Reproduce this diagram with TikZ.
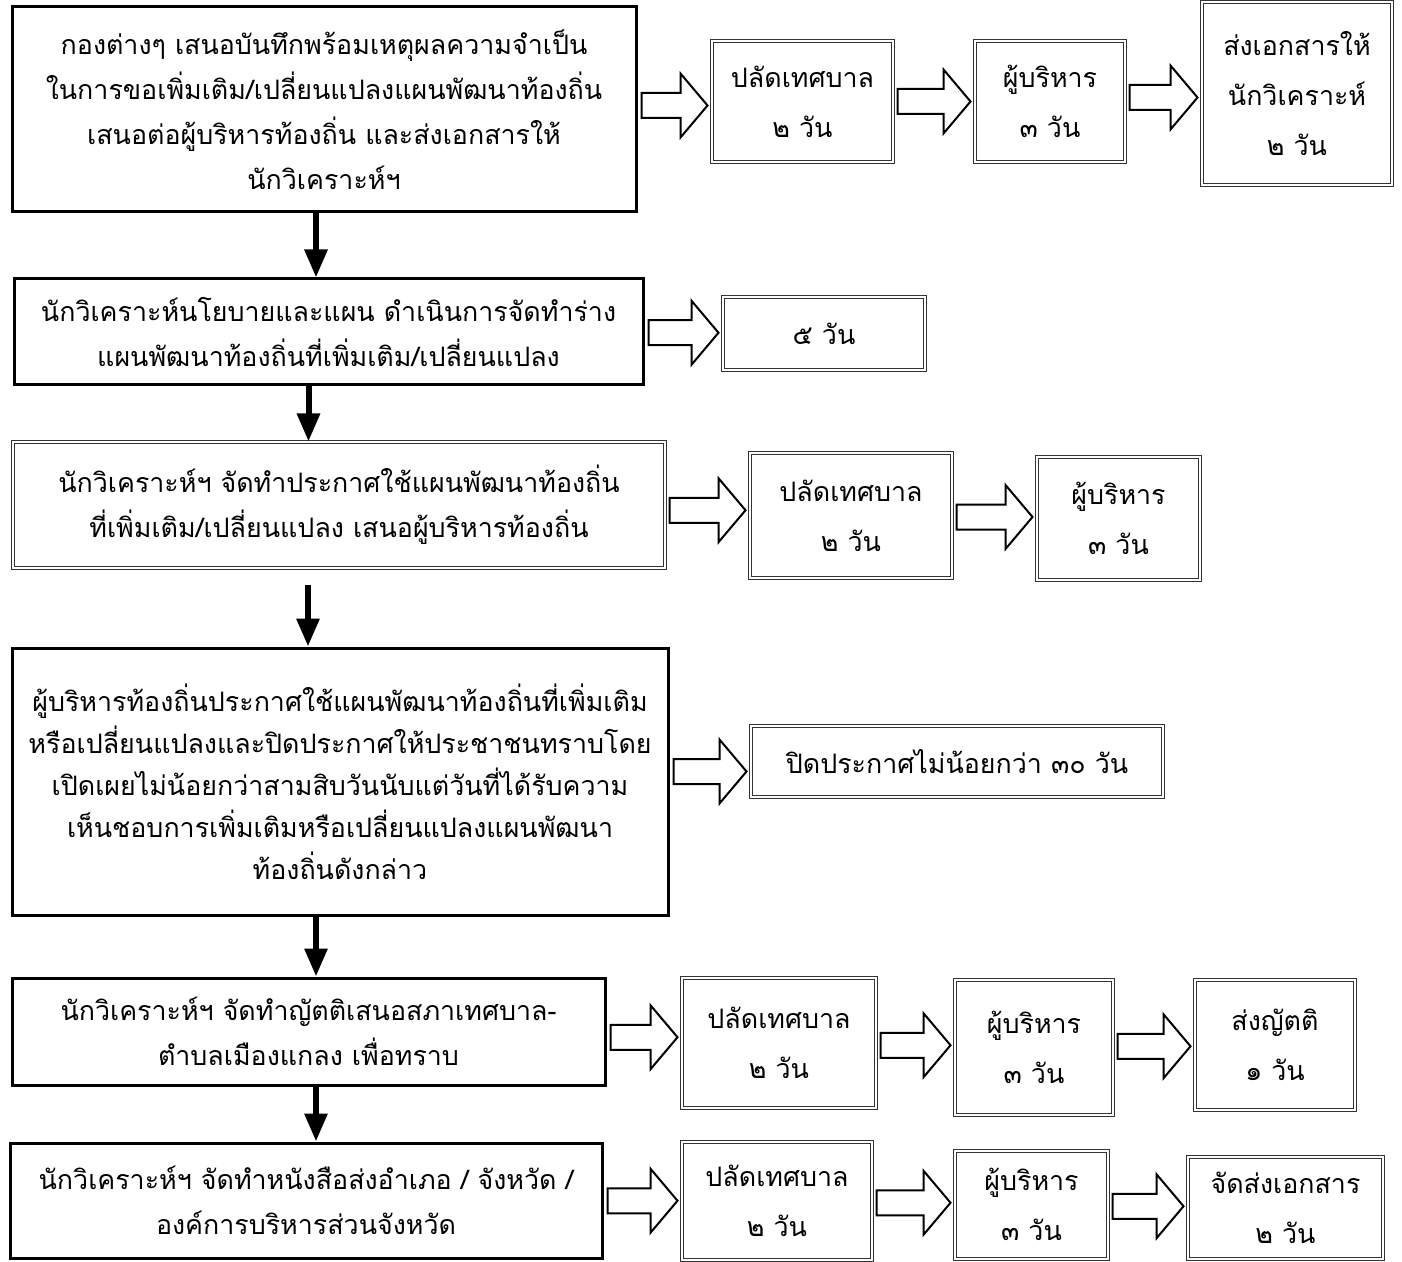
\documentclass[tikz,border=0pt]{standalone}
\usepackage{fontspec}
\newfontfamily\thaifont[Script=Thai]{Loma}
\usepackage{tikz}
\usetikzlibrary{arrows.meta,calc}

\newcommand{\flowarr}[2]{%
\draw[hollow] let \p1=(#1.east), \p2=(#2.west), \p3=($(#1.east)!0.5!(#2.west)$) in
  ({\x1+2pt},{\y3+6.25pt}) -- ({\x2-15.5pt},{\y3+6.25pt}) -- ({\x2-15.5pt},{\y3+16pt})
  -- ({\x2-2pt},\y3) -- ({\x2-15.5pt},{\y3-16pt}) -- ({\x2-15.5pt},{\y3-6.25pt})
  -- ({\x1+2pt},{\y3-6.25pt}) -- cycle;}

\begin{document}
\begin{tikzpicture}[x=0.5pt,y=-0.5pt,
  mainbox/.style={draw, line width=1.5pt, align=center, inner sep=0pt,
    font=\thaifont\fontsize{13.4}{22.5}\selectfont},
  subbox/.style={draw=black!80, double, double distance=1pt, line width=0.5pt, align=center, inner sep=0pt,
    font=\thaifont\fontsize{13.4}{25}\selectfont},
  hollow/.style={draw, line width=1pt, fill=white, line join=miter},
  downarr/.style={line width=3pt, -{Triangle[length=14pt,width=11pt]}}]
\useasboundingbox (0,0) rectangle (1402,1262);

\node[mainbox, minimum width=312pt, minimum height=102.5pt] (A) at (324,109.5)
  {กองต่างๆ เสนอบันทึกพร้อมเหตุผลความจำเป็น\\ในการขอเพิ่มเติม/เปลี่ยนแปลงแผนพัฒนาท้องถิ่น\\เสนอต่อผู้บริหารท้องถิ่น และส่งเอกสารให้\\นักวิเคราะห์ฯ};
\node[subbox, minimum width=90.5pt, minimum height=60.5pt] (p1) at (802.5,101.5) {ปลัดเทศบาล\\๒ วัน};
\node[subbox, minimum width=75pt, minimum height=60.5pt] (e1) at (1050,101.5) {ผู้บริหาร\\๓ วัน};
\node[subbox, minimum width=95pt, minimum height=91.5pt] (s1) at (1297,93.5) {ส่งเอกสารให้\\นักวิเคราะห์\\๒ วัน};

\node[mainbox, minimum width=314.5pt, minimum height=53pt] (B) at (328.5,332)
  {นักวิเคราะห์นโยบายและแผน ดำเนินการจัดทำร่าง\\แผนพัฒนาท้องถิ่นที่เพิ่มเติม/เปลี่ยนแปลง};
\node[subbox, minimum width=101pt, minimum height=36.5pt] (f1) at (824,333.5) {๕ วัน};

\node[subbox, minimum width=326pt, minimum height=63pt, font=\thaifont\fontsize{13.4}{22.5}\selectfont] (C) at (339,505)
  {นักวิเคราะห์ฯ จัดทำประกาศใช้แผนพัฒนาท้องถิ่น\\ที่เพิ่มเติม/เปลี่ยนแปลง เสนอผู้บริหารท้องถิ่น};
\node[subbox, minimum width=101pt, minimum height=62.5pt] (p3) at (851,515.5) {ปลัดเทศบาล\\๒ วัน};
\node[subbox, minimum width=81.5pt, minimum height=61.5pt] (e3) at (1118.5,518.5) {ผู้บริหาร\\๓ วัน};

\node[mainbox, minimum width=328pt, minimum height=133.5pt, font=\thaifont\fontsize{13.4}{21}\selectfont] (D) at (340,781.5)
  {ผู้บริหารท้องถิ่นประกาศใช้แผนพัฒนาท้องถิ่นที่เพิ่มเติม\\หรือเปลี่ยนแปลงและปิดประกาศให้ประชาชนทราบโดย\\เปิดเผยไม่น้อยกว่าสามสิบวันนับแต่วันที่ได้รับความ\\เห็นชอบการเพิ่มเติมหรือเปลี่ยนแปลงแผนพัฒนา\\ท้องถิ่นดังกล่าว};
\node[subbox, minimum width=206pt, minimum height=35.5pt] (f4) at (957,761.5) {ปิดประกาศไม่น้อยกว่า ๓๐ วัน};

\node[mainbox, minimum width=296.5pt, minimum height=53.5pt] (E) at (308.5,1031.5)
  {นักวิเคราะห์ฯ จัดทำญัตติเสนอสภาเทศบาล-\\ตำบลเมืองแกลง เพื่อทราบ};
\node[subbox, minimum width=97pt, minimum height=65pt] (p5) at (779,1043) {ปลัดเทศบาล\\๒ วัน};
\node[subbox, minimum width=79pt, minimum height=67.5pt] (e5) at (1034,1047.5) {ผู้บริหาร\\๓ วัน};
\node[subbox, minimum width=80pt, minimum height=65pt] (s5) at (1275,1045) {ส่งญัตติ\\๑ วัน};

\node[mainbox, minimum width=296pt, minimum height=57.5pt] (F) at (306,1200.5)
  {นักวิเคราะห์ฯ จัดทำหนังสือส่งอำเภอ / จังหวัด /\\องค์การบริหารส่วนจังหวัด};
\node[subbox, minimum width=95pt, minimum height=59pt] (p6) at (777,1201) {ปลัดเทศบาล\\๒ วัน};
\node[subbox, minimum width=76.5pt, minimum height=54pt] (e6) at (1031.5,1204.5) {ผู้บริหาร\\๓ วัน};
\node[subbox, minimum width=97.5pt, minimum height=51pt] (s6) at (1285.5,1208) {จัดส่งเอกสาร\\๒ วัน};

\flowarr{A}{p1} \flowarr{p1}{e1} \flowarr{e1}{s1}
\flowarr{B}{f1}
\flowarr{C}{p3} \flowarr{p3}{e3}
\flowarr{D}{f4}
\flowarr{E}{p5} \flowarr{p5}{e5} \flowarr{e5}{s5}
\flowarr{F}{p6} \flowarr{p6}{e6} \flowarr{e6}{s6}

\draw[downarr] ([xshift=-4pt]A.south) -- ([xshift=-4pt]A.south |- B.north);
\draw[downarr] ([xshift=-10pt]B.south) -- ([xshift=-10pt]B.south |- C.north);
\draw[downarr] ([xshift=-15.5pt,yshift=-8pt]C.south) -- ([xshift=-15.5pt]C.south |- D.north);
\draw[downarr] ([xshift=-12pt]D.south) -- ([xshift=-12pt]D.south |- E.north);
\draw[downarr] ([xshift=3.75pt]E.south) -- ([xshift=3.75pt]E.south |- F.north);
\end{tikzpicture}
\end{document}
